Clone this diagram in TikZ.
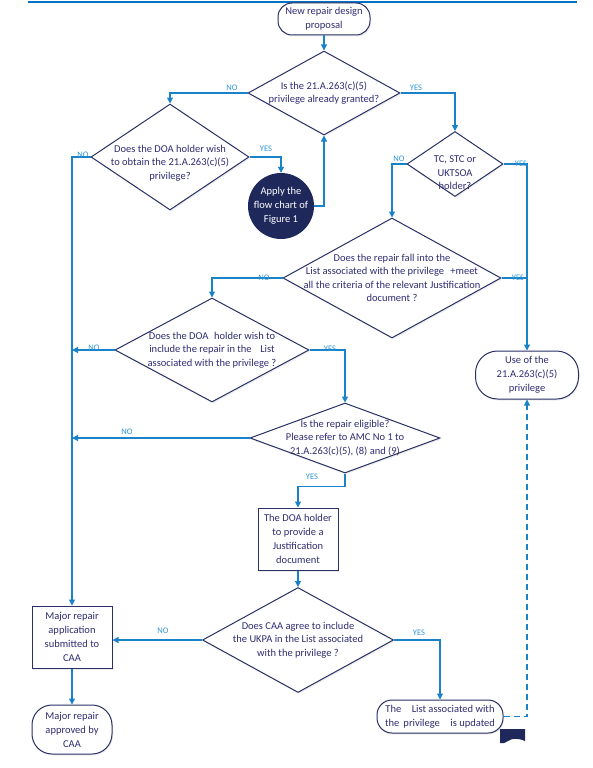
\documentclass[tikz,border=0pt]{standalone}
\usepackage{fontspec}
\setmainfont{Carlito}
\usetikzlibrary{arrows.meta,shapes.geometric,shadows}
\definecolor{flowblue}{RGB}{25,130,200}
\definecolor{labelblue}{RGB}{45,150,215}
\definecolor{edgenavy}{RGB}{40,48,100}
\definecolor{textnavy}{RGB}{48,44,115}
\definecolor{discnavy}{RGB}{30,40,90}
\definecolor{rulebar}{RGB}{0,114,198}
\tikzset{
    flow/.style={-{Triangle[length=6pt, width=6pt]}, line width=1.1pt, flowblue},
    link/.style={line width=1.1pt, flowblue},
    back/.style={-{Triangle[length=6pt, width=6pt]}, line width=1.1pt, flowblue, dash pattern=on 6pt off 4pt},
    answer/.style={font=\fontsize{8.5}{9}\selectfont, text=labelblue, inner sep=0pt},
    box/.style={draw=edgenavy, line width=1pt, fill=white, text=textnavy, align=center,
        font=\fontsize{10.5}{14}\selectfont, inner sep=1pt,
        drop shadow={opacity=0.15, shadow xshift=1pt, shadow yshift=-1.5pt}},
    stepbox/.style={box, rectangle},
    terminal/.style={box, rectangle, rounded corners=#1},
    terminal/.default=14pt,
    decision/.style={box, diamond, inner sep=0pt},
    qtext/.style={text=textnavy, align=center, font=\fontsize{10.5}{13.5}\selectfont, inner sep=0pt},
    disc/.style={circle, fill=discnavy, text=white, align=center, font=\fontsize{10.5}{14}\selectfont,
        inner sep=0pt, minimum size=66pt}
}
\begin{document}
\begin{tikzpicture}[x=1pt, y=-1pt]
\useasboundingbox (0,0) rectangle (592,768);
\draw[rulebar, line width=2pt] (28,2) -- (577,2);

\node[terminal=14pt, minimum width=92pt, minimum height=32pt] (proposal) at (324,19) {New repair design\\proposal};
\node[decision, minimum width=152pt, minimum height=84pt,
    label={[qtext]center:Is the 21.A.263(c)(5)\\privilege already granted?}] (granted) at (324,93) {};
\node[decision, minimum width=158pt, minimum height=106pt,
    label={[qtext, yshift=-6pt]center:Does the DOA holder wish\\to obtain the 21.A.263(c)(5)\\privilege?}] (wish) at (170,157) {};
\node[disc] (figure) at (281,206) {Apply the\\flow chart of\\Figure 1};
\node[decision, minimum width=96pt, minimum height=65pt,
    label={[qtext, yshift=-9pt]center:TC, STC or\\UKTSOA\\holder?}] (holder) at (455,164) {};
\node[decision, minimum width=218pt, minimum height=120pt,
    label={[qtext]center:Does the repair fall into the\\List associated with the privilege\hspace{.6em}+meet\\all the criteria of the relevant Justification\\document ?}] (fall) at (392,278) {};
\node[decision, minimum width=194pt, minimum height=104pt,
    label={[qtext]center:Does the DOA\hspace{.3em} holder wish to\\include the repair in the\hspace{.6em} List\\associated with the privilege ?}] (include) at (212,350) {};
\node[decision, minimum width=190pt, minimum height=70pt,
    label={[qtext]center:Is the repair eligible?\\Please refer to AMC No 1 to\\21.A.263(c)(5), (8) and (9)}] (eligible) at (345,438) {};
\node[stepbox, minimum width=80pt, minimum height=62pt] (justify) at (298,539) {The DOA holder\\to provide a\\Justification\\document};
\node[decision, minimum width=191pt, minimum height=105pt,
    label={[qtext]center:Does CAA agree to include\\the UKPA in the List associated\\with the privilege ?}] (agree) at (298,640) {};
\node[stepbox, minimum width=80pt, minimum height=62pt] (major) at (72,637) {Major repair\\application\\submitted to\\CAA};
\node[terminal=20pt, minimum width=80pt, minimum height=49pt] (approved) at (72,729.5) {Major repair\\approved by\\CAA};
\node[terminal=15pt, minimum width=126pt, minimum height=33pt] (updated) at (440,716.5) {The\hspace{1em}List associated with\\the\hspace{.4em}privilege\hspace{1em}is updated};
\node[terminal=22pt, minimum width=103pt, minimum height=48pt] (use) at (527,375) {Use of the\\21.A.263(c)(5)\\privilege};

\draw[flow] (proposal.south) -- (granted.north);
\draw[flow] (granted.west) -| (wish.north);
\draw[flow] (granted.east) -| (holder.north);
\draw[flow] (wish.east) -| (figure.north);
\draw[flow] (figure.east) -| (granted.south);
\draw[flow] (wish.west) -| (major.north);
\draw[flow] (holder.east) -| (use.north);
\draw[flow] (holder.west) -| (fall.north);
\draw[link] (fall.east) -- (fall.east -| use.north);
\draw[flow] (fall.west) -| (include.north);
\draw[flow] (include.west) -- (include.west -| major.north);
\draw[flow] (include.east) -| (eligible.north);
\draw[flow] (eligible.west) -- (eligible.west -| major.north);
\draw[flow] (eligible.south) -- ++(0,13) -| (justify.north);
\draw[flow] (justify.south) -- (agree.north);
\draw[flow] (agree.west) -- (agree.west -| major.east);
\draw[flow] (agree.east) -| (updated.north);
\draw[flow] (major.south) -- (approved.north);
\draw[back] (updated.east) -| (use.south);

\node[answer] (no-granted) at (232,88) {NO};
\node[answer] (yes-granted) at (416,88) {YES};
\node[answer] (no-wish) at (83,155) {NO};
\node[answer] (yes-wish) at (266,149) {YES};
\node[answer] (no-holder) at (399,159) {NO};
\node[answer] (yes-holder) at (521,164) {YES};
\node[answer] (no-fall) at (264,278) {NO};
\node[answer] (yes-fall) at (518,278) {YES};
\node[answer] (no-include) at (94,348) {NO};
\node[answer] (yes-include) at (330,349) {YES};
\node[answer] (no-eligible) at (127,432) {NO};
\node[answer] (yes-eligible) at (312,477) {YES};
\node[answer] (no-agree) at (163,631) {NO};
\node[answer] (yes-agree) at (419,633) {YES};

\fill[discnavy] (500,729) -- (525,729) -- (525,741) .. controls (518,738) and (512,738) .. (508,741)
    .. controls (505,743) and (502,744) .. (500,743) -- cycle;
\end{tikzpicture}
\end{document}
